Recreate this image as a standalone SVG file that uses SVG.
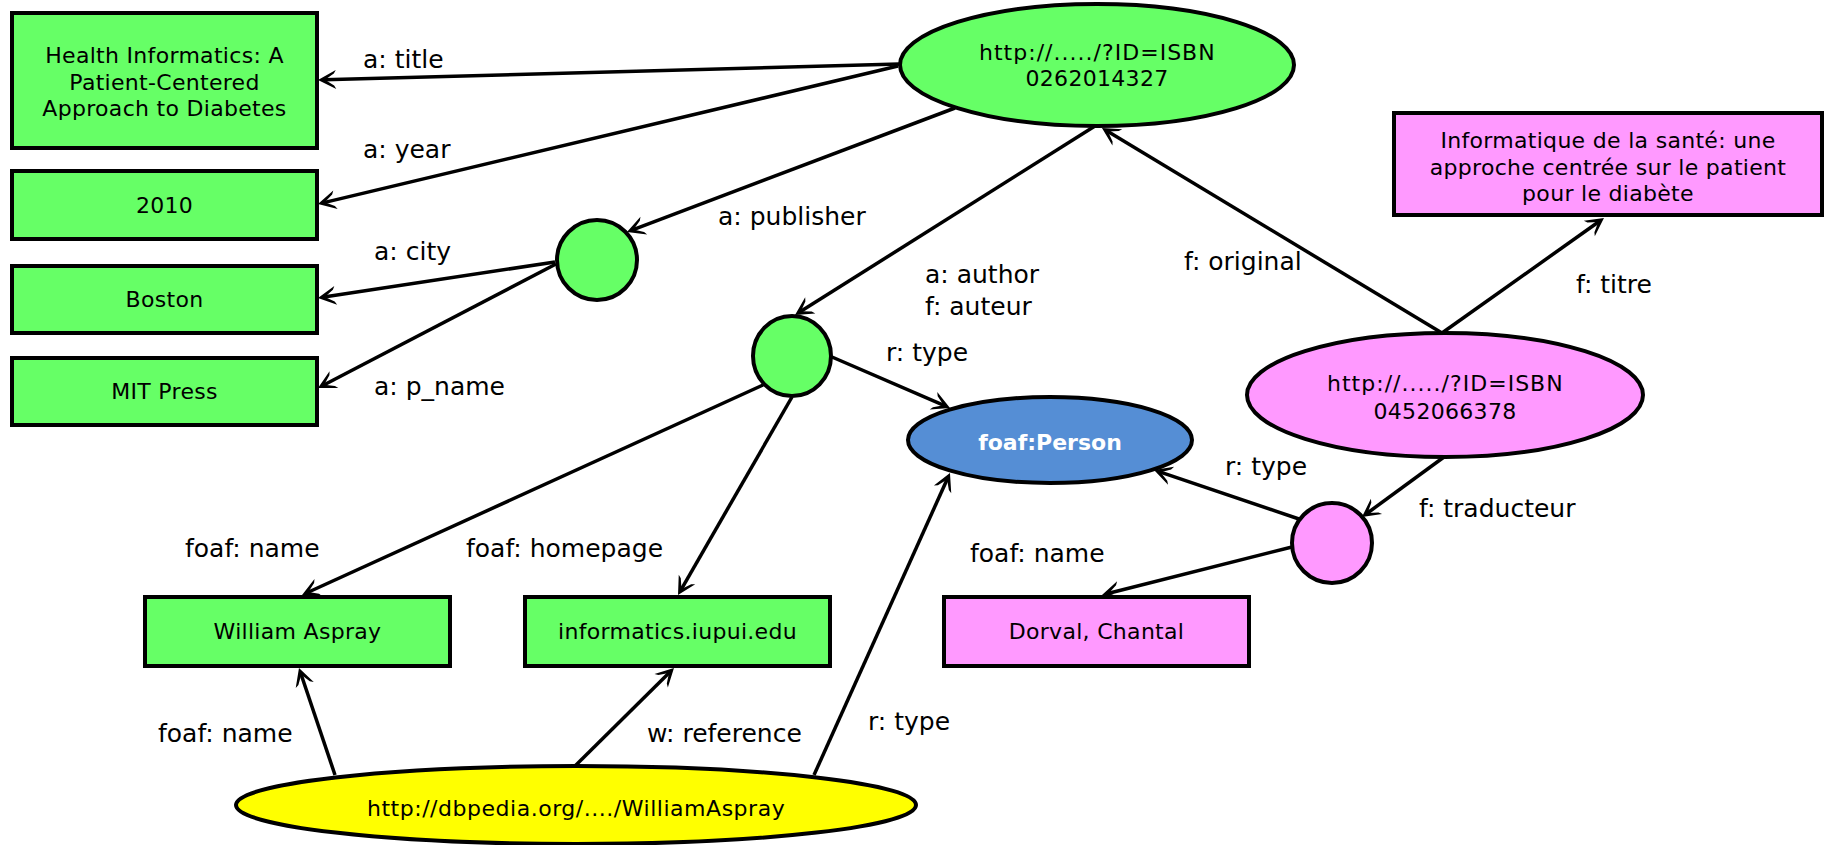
<svg xmlns="http://www.w3.org/2000/svg" width="1828" height="845" viewBox="0 0 1828 845">
  <style>
    .box { stroke: #000; stroke-width: 4; }
    .green { fill: #66FF66; }
    .pink { fill: #FF99FF; }
    .blue { fill: #558ED5; }
    .yellow { fill: #FFFF00; }
    .nt { font-family: "DejaVu Sans", Verdana, sans-serif; font-size: 22px; letter-spacing: 0.3px; fill: #000; text-anchor: middle; }
    .nt-bold { font-family: "DejaVu Sans", Verdana, sans-serif; font-size: 22px; font-weight: bold; fill: #fff; text-anchor: middle; }
    .edge { stroke: #000; stroke-width: 3.5; fill: none; marker-end: url(#arrow); }
    .lbl { font-family: "DejaVu Sans", Verdana, sans-serif; font-size: 25px; fill: #000; }
  </style>
  <defs>
    <marker id="arrow" markerUnits="userSpaceOnUse" viewBox="-20 -11 22 22" markerWidth="22" markerHeight="22" refX="-6" refY="0" orient="auto">
      <path d="M0,0 L-18,-9.5 L-16,-6 L-7,0 L-16,6 L-18,9.5 Z" fill="#000"/>
    </marker>
  </defs>

  <rect width="1828" height="845" fill="#fff"/>

  <!-- connectors -->
  <g id="connectors">
    <line class="edge" x1="899" y1="64" x2="324" y2="79.8"/>
    <line class="edge" x1="898" y1="66" x2="323.8" y2="202.6"/>
    <line class="edge" x1="955" y1="108" x2="632.6" y2="229.9"/>
    <line class="edge" x1="555" y1="262" x2="323.9" y2="297.1"/>
    <line class="edge" x1="556" y1="264" x2="323.3" y2="385.2"/>
    <line class="edge" x1="1095" y1="126" x2="800.1" y2="311.8"/>
    <line class="edge" x1="1442" y1="333" x2="1107.1" y2="131.1"/>
    <line class="edge" x1="1442" y1="333" x2="1599.1" y2="221.5"/>
    <line class="edge" x1="832" y1="357" x2="944.5" y2="405.6"/>
    <line class="edge" x1="763" y1="385" x2="307.5" y2="592.5"/>
    <line class="edge" x1="792" y1="397" x2="681" y2="589.8"/>
    <line class="edge" x1="1444" y1="457" x2="1366.8" y2="513.5"/>
    <line class="edge" x1="1299" y1="519" x2="1159.7" y2="471.9"/>
    <line class="edge" x1="1292" y1="547" x2="1107.8" y2="593.5"/>
    <line class="edge" x1="335" y1="775" x2="300.9" y2="673.7"/>
    <line class="edge" x1="575" y1="766" x2="669.7" y2="672.2"/>
    <line class="edge" x1="814" y1="775" x2="947.5" y2="478.5"/>

    <text class="lbl" x="363" y="68">a: title</text>
    <text class="lbl" x="363" y="158">a: year</text>
    <text class="lbl" x="718" y="225">a: publisher</text>
    <text class="lbl" x="374" y="260">a: city</text>
    <text class="lbl" x="374" y="395">a: p_name</text>
    <text class="lbl" x="925" y="283">a: author</text>
    <text class="lbl" x="925" y="315">f: auteur</text>
    <text class="lbl" x="1184" y="270">f: original</text>
    <text class="lbl" x="1576" y="293">f: titre</text>
    <text class="lbl" x="886" y="361">r: type</text>
    <text class="lbl" x="185" y="557">foaf: name</text>
    <text class="lbl" x="466" y="557">foaf: homepage</text>
    <text class="lbl" x="1419" y="517">f: traducteur</text>
    <text class="lbl" x="1225" y="475">r: type</text>
    <text class="lbl" x="970" y="562">foaf: name</text>
    <text class="lbl" x="158" y="742">foaf: name</text>
    <text class="lbl" x="647" y="742">w: reference</text>
    <text class="lbl" x="868" y="730">r: type</text>
  </g>

  <!-- nodes -->
  <g id="book-en">
    <ellipse class="box green" cx="1097" cy="65" rx="197" ry="61"/>
    <text class="nt" x="1097" y="60" textLength="236" lengthAdjust="spacing">http://...../?ID=ISBN</text>
    <text class="nt" x="1097" y="86">0262014327</text>
  </g>
  <g id="title-en">
    <rect class="box green" x="12" y="13" width="305" height="135"/>
    <text class="nt" x="164.5" y="63">Health Informatics: A</text>
    <text class="nt" x="164.5" y="90">Patient-Centered</text>
    <text class="nt" x="164.5" y="116">Approach to Diabetes</text>
  </g>
  <g id="year">
    <rect class="box green" x="12" y="171" width="305" height="68"/>
    <text class="nt" x="164.5" y="213">2010</text>
  </g>
  <g id="city">
    <rect class="box green" x="12" y="266" width="305" height="67"/>
    <text class="nt" x="164.5" y="307">Boston</text>
  </g>
  <g id="publisher-name">
    <rect class="box green" x="12" y="358" width="305" height="67"/>
    <text class="nt" x="164.5" y="399">MIT Press</text>
  </g>
  <g id="publisher">
    <circle class="box green" cx="597" cy="260" r="40"/>
  </g>
  <g id="author">
    <ellipse class="box green" cx="792" cy="356" rx="39" ry="40"/>
  </g>
  <g id="person-class">
    <ellipse class="box blue" cx="1050" cy="440" rx="142" ry="43"/>
    <text class="nt-bold" x="1050" y="450">foaf:Person</text>
  </g>
  <g id="title-fr">
    <rect class="box pink" x="1394" y="113" width="428" height="102"/>
    <text class="nt" x="1608" y="148">Informatique de la santé: une</text>
    <text class="nt" x="1608" y="175">approche centrée sur le patient</text>
    <text class="nt" x="1608" y="201">pour le diabète</text>
  </g>
  <g id="book-fr">
    <ellipse class="box pink" cx="1445" cy="395" rx="198" ry="62"/>
    <text class="nt" x="1445" y="391" textLength="236" lengthAdjust="spacing">http://...../?ID=ISBN</text>
    <text class="nt" x="1445" y="419">0452066378</text>
  </g>
  <g id="translator">
    <circle class="box pink" cx="1332" cy="543" r="40"/>
  </g>
  <g id="author-name">
    <rect class="box green" x="145" y="597" width="305" height="69"/>
    <text class="nt" x="297.5" y="639">William Aspray</text>
  </g>
  <g id="homepage">
    <rect class="box green" x="525" y="597" width="305" height="69"/>
    <text class="nt" x="677.5" y="639">informatics.iupui.edu</text>
  </g>
  <g id="translator-name">
    <rect class="box pink" x="944" y="597" width="305" height="69"/>
    <text class="nt" x="1096.5" y="639">Dorval, Chantal</text>
  </g>
  <g id="dbpedia">
    <ellipse class="box yellow" cx="576" cy="805" rx="340" ry="39"/>
    <text class="nt" x="576" y="816" textLength="418" lengthAdjust="spacing">http://dbpedia.org/..../WilliamAspray</text>
  </g>
</svg>
